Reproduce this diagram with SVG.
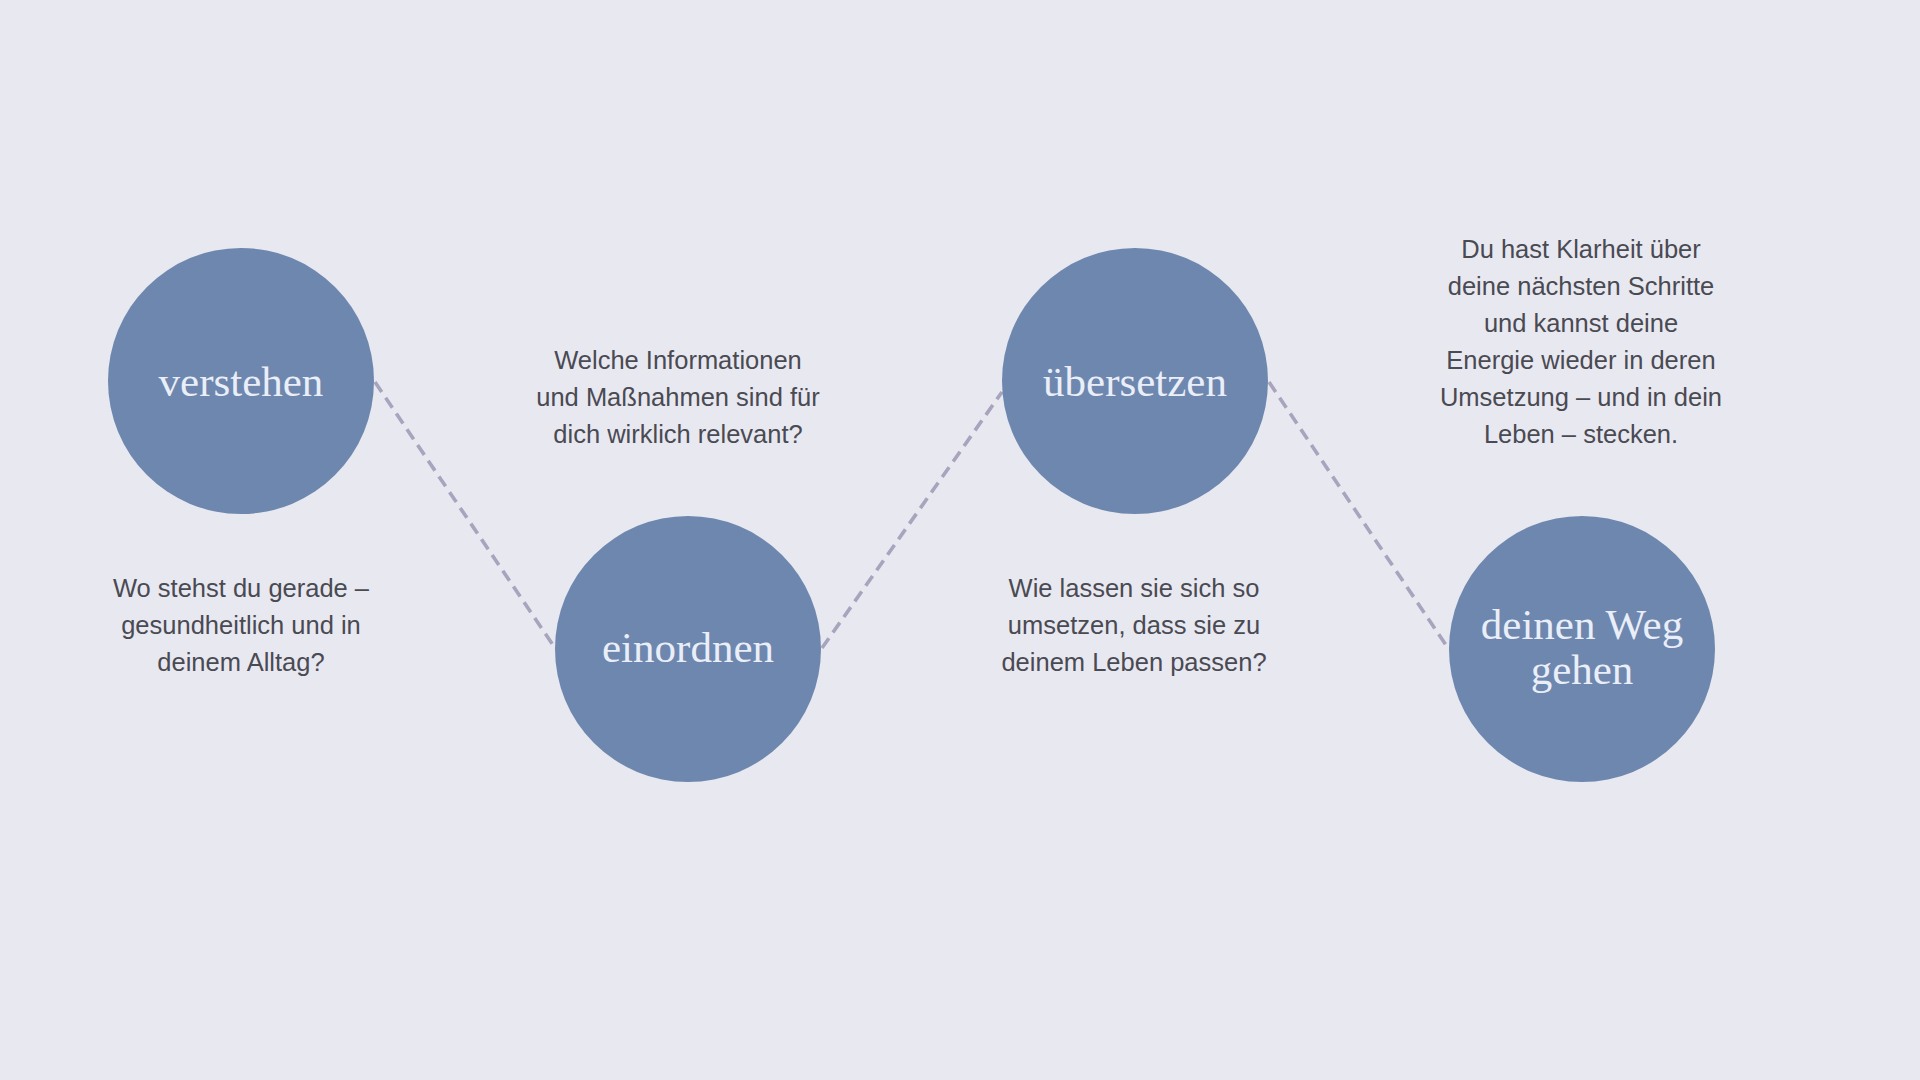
<svg xmlns="http://www.w3.org/2000/svg" width="1920" height="1080" viewBox="0 0 1920 1080">
<defs>
<style>
.bg{fill:#e8e8f1}
.node{fill:#6e87ae}
.lbl{font-family:"Liberation Serif","Times New Roman",serif;font-size:43px;fill:#eaeef8;text-anchor:middle}
.txt{font-family:"Liberation Sans",Arial,sans-serif;font-size:25.5px;fill:#4a4a52;text-anchor:middle}
.conn{stroke:#a9a4be;stroke-width:3.6;stroke-dasharray:12 7;fill:none}
</style>
</defs>
<rect class="bg" x="0" y="0" width="1920" height="1080"/>
<g id="connectors">
<line class="conn" x1="375" y1="382" x2="555" y2="648"/>
<line class="conn" x1="822" y1="648" x2="1002" y2="392"/>
<line class="conn" x1="1269" y1="382" x2="1448" y2="648"/>
</g>
<g id="node-verstehen">
<circle class="node" cx="241" cy="381" r="133"/>
<text class="lbl" x="241" y="395.5">verstehen</text>
</g>
<g id="node-einordnen">
<circle class="node" cx="688" cy="649" r="133"/>
<text class="lbl" x="688" y="662">einordnen</text>
</g>
<g id="node-uebersetzen">
<circle class="node" cx="1135" cy="381" r="133"/>
<text class="lbl" x="1135" y="395.5">übersetzen</text>
</g>
<g id="node-weg">
<circle class="node" cx="1582" cy="649" r="133"/>
<text class="lbl" x="1582" y="639">deinen Weg</text>
<text class="lbl" x="1582" y="684">gehen</text>
</g>
<g id="text-verstehen">
<text class="txt" x="241" y="597">Wo stehst du gerade –</text>
<text class="txt" x="241" y="634">gesundheitlich und in</text>
<text class="txt" x="241" y="671">deinem Alltag?</text>
</g>
<g id="text-einordnen">
<text class="txt" x="678" y="369">Welche Informationen</text>
<text class="txt" x="678" y="406">und Maßnahmen sind für</text>
<text class="txt" x="678" y="443">dich wirklich relevant?</text>
</g>
<g id="text-uebersetzen">
<text class="txt" x="1134" y="597">Wie lassen sie sich so</text>
<text class="txt" x="1134" y="634">umsetzen, dass sie zu</text>
<text class="txt" x="1134" y="671">deinem Leben passen?</text>
</g>
<g id="text-weg">
<text class="txt" x="1581" y="258">Du hast Klarheit über</text>
<text class="txt" x="1581" y="295">deine nächsten Schritte</text>
<text class="txt" x="1581" y="332">und kannst deine</text>
<text class="txt" x="1581" y="369">Energie wieder in deren</text>
<text class="txt" x="1581" y="406">Umsetzung – und in dein</text>
<text class="txt" x="1581" y="443">Leben – stecken.</text>
</g>
</svg>
